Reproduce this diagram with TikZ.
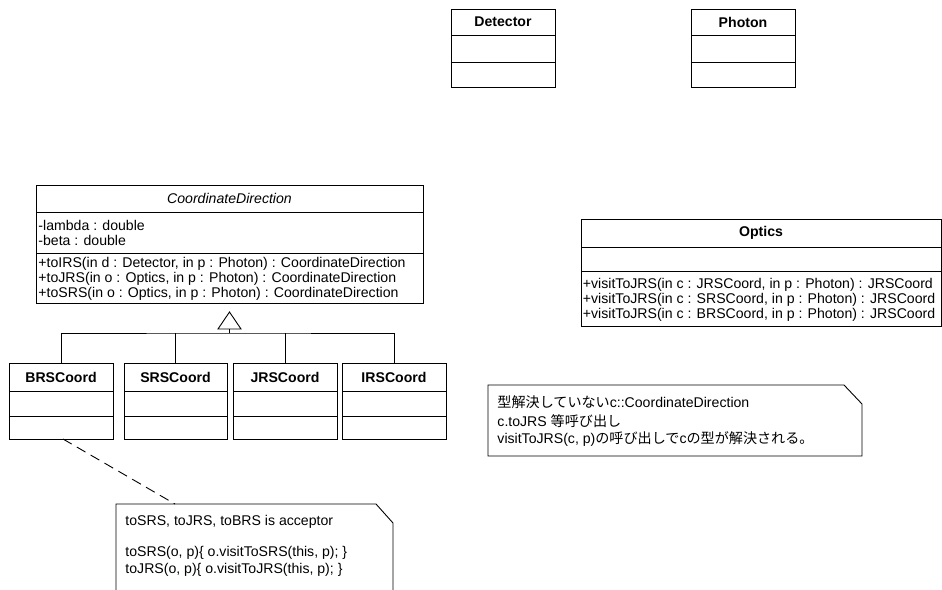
\documentclass[tikz,border=0pt]{standalone}
\usepackage{fontspec}
\setmainfont{Liberation Sans}
\newfontfamily\jp{Noto Sans CJK JP}
\newcommand\fs{\fontsize{14.1}{15}\selectfont}
\begin{document}
\begin{tikzpicture}[x=1pt,y=-1pt, line width=0.9pt,
  box/.style={draw, inner sep=0pt, outer sep=0pt, anchor=north west},
  hdr/.style={box, font=\fs\bfseries},
  lbl/.style={anchor=west, inner sep=0pt, font=\fs},
  dashline/.style={dash pattern=on 10pt off 6pt}]
\useasboundingbox (0,0) rectangle (942,589);
\clip (0,0) rectangle (942,589);
\fill[white] (0,0) rectangle (942,589);

% Detector
\node[hdr, minimum width=104pt, minimum height=26pt] (detH) at (451,9) {Detector};
\node[box, minimum width=104pt, minimum height=27pt] (detA) at (detH.south west) {};
\node[box, minimum width=104pt, minimum height=25pt] (detO) at (detA.south west) {};

% Photon
\node[hdr, minimum width=104pt, minimum height=26pt] (phH) at (691,9) {Photon};
\node[box, minimum width=104pt, minimum height=27pt] (phA) at (phH.south west) {};
\node[box, minimum width=104pt, minimum height=25pt] (phO) at (phA.south west) {};

% CoordinateDirection
\node[box, font=\fs\itshape, minimum width=387pt, minimum height=27pt] (cdH) at (36,185) {CoordinateDirection};
\node[box, minimum width=387pt, minimum height=41pt] (cdA) at (cdH.south west) {};
\node[box, minimum width=387pt, minimum height=50pt] (cdO) at (cdA.south west) {};
\node[lbl] (cda1) at (38,225) {-lambda : double};
\node[lbl] (cda2) at (38,240) {-beta : double};
\node[lbl] (cdo1) at (38,264) {+toIRS(in d : Detector, in p : Photon) : CoordinateDirection};
\node[lbl] (cdo2) at (38,279) {+toJRS(in o : Optics, in p : Photon) : CoordinateDirection};
\node[lbl] (cdo3) at (38,294) {+toSRS(in o : Optics, in p : Photon) : CoordinateDirection};

% subclasses
\node[hdr, minimum width=104pt, minimum height=28pt] (brsH) at (9,363) {BRSCoord};
\node[box, minimum width=104pt, minimum height=25pt] (brsA) at (brsH.south west) {};
\node[box, minimum width=104pt, minimum height=23pt] (brsO) at (brsA.south west) {};

\node[hdr, minimum width=103pt, minimum height=28pt] (srsH) at (124,363) {SRSCoord};
\node[box, minimum width=103pt, minimum height=25pt] (srsA) at (srsH.south west) {};
\node[box, minimum width=103pt, minimum height=23pt] (srsO) at (srsA.south west) {};

\node[hdr, minimum width=104pt, minimum height=28pt] (jrsH) at (233,363) {JRSCoord};
\node[box, minimum width=104pt, minimum height=25pt] (jrsA) at (jrsH.south west) {};
\node[box, minimum width=104pt, minimum height=23pt] (jrsO) at (jrsA.south west) {};

\node[hdr, minimum width=104pt, minimum height=28pt] (irsH) at (342,363) {IRSCoord};
\node[box, minimum width=104pt, minimum height=25pt] (irsA) at (irsH.south west) {};
\node[box, minimum width=104pt, minimum height=23pt] (irsO) at (irsA.south west) {};

% generalization
\coordinate (apex) at (229.5,312);
\coordinate (hub) at (229.5,333);
\draw (apex) -- ++(-11.5,17) -- ++(23,0) -- cycle;
\draw ([yshift=-17pt]apex) -- (hub);
\draw (brsH.north) |- (hub) -| (irsH.north);
\draw (srsH.north) -- (srsH.north |- hub);
\draw (jrsH.north) -- (jrsH.north |- hub);

% Optics
\node[hdr, minimum width=360pt, minimum height=28pt] (opH) at (581,219) {Optics};
\node[box, minimum width=360pt, minimum height=24pt] (opA) at (opH.south west) {};
\node[box, minimum width=360pt, minimum height=55pt] (opO) at (opA.south west) {};
\node[lbl] (opo1) at (582.5,285) {+visitToJRS(in c : JRSCoord, in p : Photon) : JRSCoord};
\node[lbl] (opo2) at (582.5,300) {+visitToJRS(in c : SRSCoord, in p : Photon) : JRSCoord};
\node[lbl] (opo3) at (582.5,315) {+visitToJRS(in c : BRSCoord, in p : Photon) : JRSCoord};

% note 1
\node[box, draw=none, minimum width=374pt, minimum height=71pt] (note1) at (488,385) {};
\draw (note1.north west) -- ([xshift=-18pt]note1.north east) -- ([yshift=-19pt]note1.north east) -- (note1.south east) -- (note1.south west) -- cycle;
\node[lbl] (n1a) at (497,402) {{\jp 型解決していない}c::CoordinateDirection};
\node[lbl] (n1b) at (497,421) {c.toJRS {\jp 等呼び出し}};
\node[lbl] (n1c) at (497,439) {visitToJRS(c, p){\jp の呼び出しで}c{\jp の型が解決される。}};

% note 2
\node[box, draw=none, minimum width=277pt, minimum height=100pt] (note2) at (116,504) {};
\draw (note2.north west) -- ([xshift=-17pt]note2.north east) -- ([yshift=-19pt]note2.north east) -- (note2.south east) -- (note2.south west) -- cycle;
\node[lbl] (n2a) at (125,522) {toSRS, toJRS, toBRS is acceptor};
\node[lbl] (n2b) at (125,553) {toSRS(o, p)\{ o.visitToSRS(this, p); \}};
\node[lbl] (n2c) at (125,570) {toJRS(o, p)\{ o.visitToJRS(this, p); \}};
\coordinate (n2in) at (175,504);
\draw[dashline] ([xshift=2pt]brsO.south) -- (n2in);
\end{tikzpicture}
\end{document}
